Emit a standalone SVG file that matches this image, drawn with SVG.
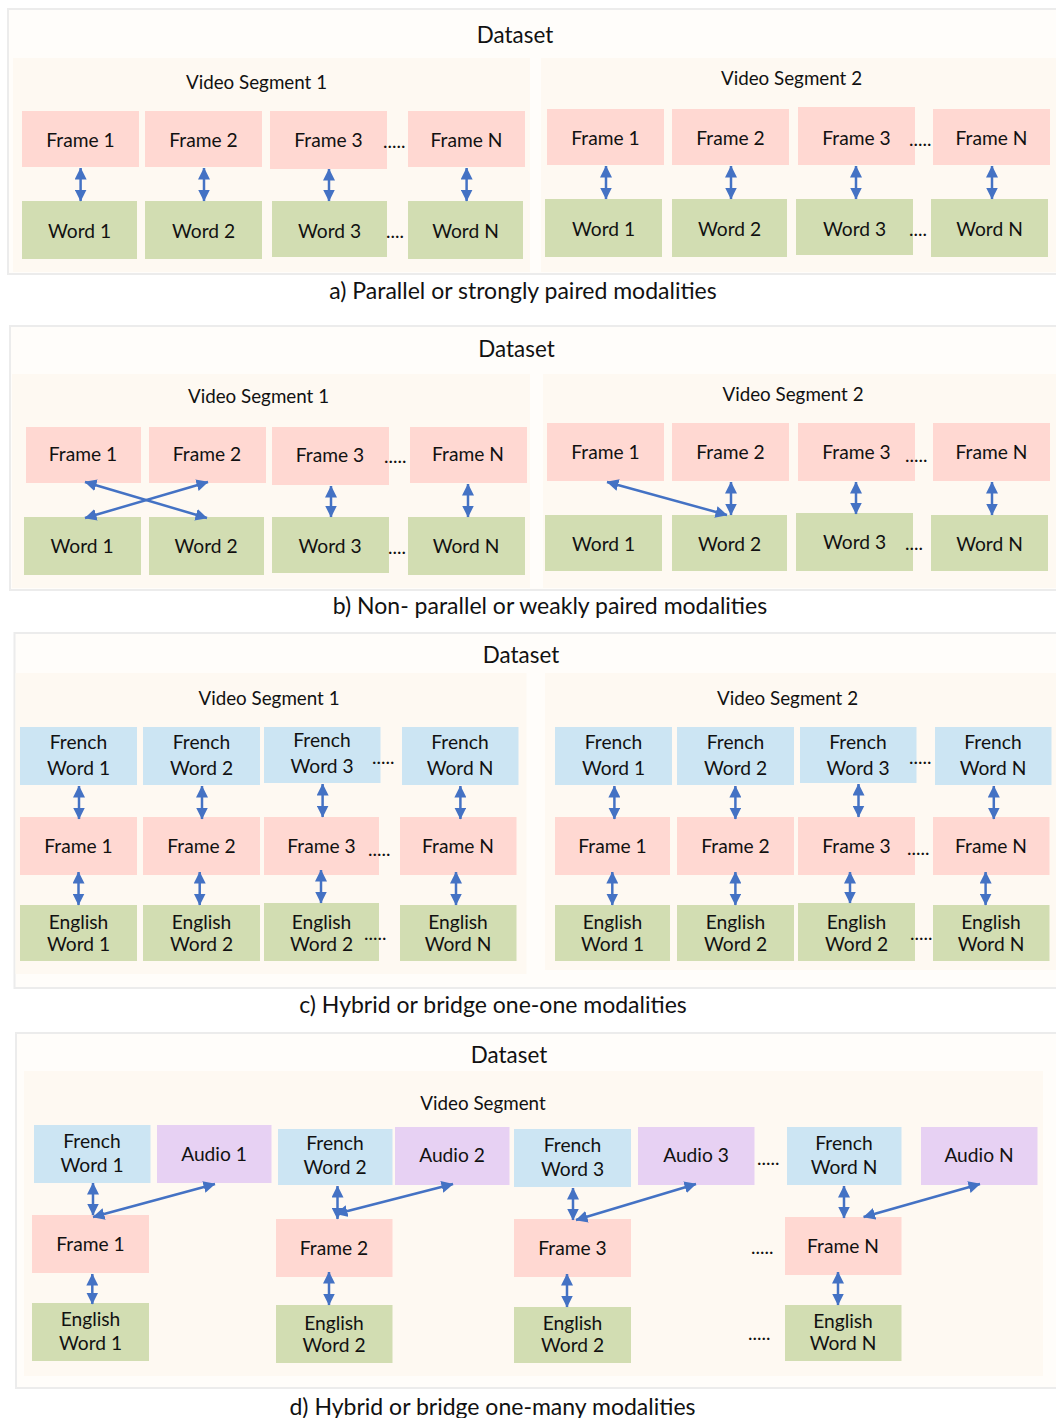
<svg xmlns="http://www.w3.org/2000/svg" width="1056" height="1418" viewBox="0 0 1056 1418">
<style>
text{font-family:Lato,"Open Sans",sans-serif;fill:#111;}
.outer{fill:#fffdfa;stroke:#ececec;stroke-width:2;}
.seg{fill:#fef9f2;}
.frame{fill:#ffd8d2;}
.word{fill:#d2ddb2;}
.fr{fill:#cce5f3;}
.audio{fill:#e7d1f3;}
.t{font-size:19.2px;text-anchor:middle;}
.vs{font-size:18.8px;text-anchor:middle;}
.ttl{font-size:22.4px;text-anchor:middle;}
.cap{font-size:23px;text-anchor:middle;}
.dots{font-size:19px;}
.arr{stroke:#4472c4;stroke-width:2.5;fill:none;marker-start:url(#ah);marker-end:url(#ah);}
</style>
<defs>
<marker id="ah" markerUnits="userSpaceOnUse" markerWidth="12" markerHeight="12" refX="11.5" refY="6" orient="auto-start-reverse" viewBox="0 0 12 12">
<path d="M0,0 L12,6 L0,12 z" fill="#4472c4"/>
</marker>
</defs>
<rect width="1056" height="1418" fill="#ffffff"/>

<!-- Panel a -->
<g id="panel-a">
<rect class="outer" x="8" y="9" width="1052" height="265"/>
<text class="ttl" x="515" y="43">Dataset</text>
<rect class="seg" x="13" y="58" width="517" height="214"/>
<rect class="seg" x="541" y="58" width="517" height="214"/>
<text class="vs" x="256.5" y="89">Video Segment 1</text>
<text class="vs" x="791.5" y="85">Video Segment 2</text>
<text class="cap" x="523" y="299">a) Parallel or strongly paired modalities</text>
</g>
<g id="a-s1-frame1"><rect class="frame" x="22" y="111" width="117" height="56"/><text class="t" x="80.5" y="146.5">Frame 1</text></g>
<g id="a-s1-frame2"><rect class="frame" x="145" y="111" width="117" height="56"/><text class="t" x="203.5" y="146.5">Frame 2</text></g>
<g id="a-s1-frame3"><rect class="frame" x="270" y="111" width="117" height="58"/><text class="t" x="328.5" y="146.5">Frame 3</text></g>
<g id="a-s1-frameN"><rect class="frame" x="408" y="111" width="117" height="56"/><text class="t" x="466.5" y="146.5">Frame N</text></g>
<g id="a-s1-word1"><rect class="word" x="22" y="201" width="115" height="58"/><text class="t" x="79.5" y="237.5">Word 1</text></g>
<g id="a-s1-word2"><rect class="word" x="145" y="201" width="117" height="58"/><text class="t" x="203.5" y="237.5">Word 2</text></g>
<g id="a-s1-word3"><rect class="word" x="272" y="201" width="115" height="56"/><text class="t" x="329.5" y="237.5">Word 3</text></g>
<g id="a-s1-wordN"><rect class="word" x="408" y="201" width="115" height="58"/><text class="t" x="465.5" y="237.5">Word N</text></g>
<text class="dots" x="383" y="148">.....</text>
<text class="dots" x="386" y="238">....</text>

<g id="a-s2-frame1"><rect class="frame" x="547" y="109" width="117" height="56"/><text class="t" x="605.5" y="144.5">Frame 1</text></g>
<g id="a-s2-frame2"><rect class="frame" x="672" y="109" width="117" height="56"/><text class="t" x="730.5" y="144.5">Frame 2</text></g>
<g id="a-s2-frame3"><rect class="frame" x="798" y="107" width="117" height="58"/><text class="t" x="856.5" y="144.5">Frame 3</text></g>
<g id="a-s2-frameN"><rect class="frame" x="933" y="109" width="117" height="56"/><text class="t" x="991.5" y="144.5">Frame N</text></g>
<g id="a-s2-word1"><rect class="word" x="545" y="199" width="117" height="58"/><text class="t" x="603.5" y="235.5">Word 1</text></g>
<g id="a-s2-word2"><rect class="word" x="672" y="199" width="115" height="58"/><text class="t" x="729.5" y="235.5">Word 2</text></g>
<g id="a-s2-word3"><rect class="word" x="796" y="199" width="117" height="56"/><text class="t" x="854.5" y="235.5">Word 3</text></g>
<g id="a-s2-wordN"><rect class="word" x="931" y="199" width="117" height="58"/><text class="t" x="989.5" y="235.5">Word N</text></g>
<text class="dots" x="909" y="146">.....</text>
<text class="dots" x="909" y="236">....</text>

<!-- Panel b -->
<g id="panel-b">
<rect class="outer" x="10" y="326" width="1050" height="264"/>
<text class="ttl" x="516.5" y="357">Dataset</text>
<rect class="seg" x="12" y="374" width="518" height="214"/>
<rect class="seg" x="543" y="374" width="515" height="214"/>
<text class="vs" x="258.5" y="403">Video Segment 1</text>
<text class="vs" x="793" y="401">Video Segment 2</text>
<text class="cap" x="550" y="614">b) Non- parallel or weakly paired modalities</text>
</g>
<g id="b-s1-frame1"><rect class="frame" x="26" y="427" width="115" height="56"/><text class="t" x="83" y="461">Frame 1</text></g>
<g id="b-s1-frame2"><rect class="frame" x="149" y="427" width="117" height="56"/><text class="t" x="207" y="461">Frame 2</text></g>
<g id="b-s1-frame3"><rect class="frame" x="272" y="427" width="117" height="58"/><text class="t" x="330" y="462">Frame 3</text></g>
<g id="b-s1-frameN"><rect class="frame" x="410" y="427" width="117" height="56"/><text class="t" x="468" y="461">Frame N</text></g>
<g id="b-s1-word1"><rect class="word" x="24" y="517" width="117" height="58"/><text class="t" x="82" y="553">Word 1</text></g>
<g id="b-s1-word2"><rect class="word" x="149" y="517" width="115" height="58"/><text class="t" x="206" y="553">Word 2</text></g>
<g id="b-s1-word3"><rect class="word" x="272" y="517" width="117" height="56"/><text class="t" x="330" y="553">Word 3</text></g>
<g id="b-s1-wordN"><rect class="word" x="408" y="517" width="117" height="58"/><text class="t" x="466" y="553">Word N</text></g>
<text class="dots" x="384" y="463">.....</text>
<text class="dots" x="388" y="554">....</text>

<g id="b-s2-frame1"><rect class="frame" x="547" y="423" width="117" height="58"/><text class="t" x="605.5" y="459">Frame 1</text></g>
<g id="b-s2-frame2"><rect class="frame" x="672" y="423" width="117" height="58"/><text class="t" x="730.5" y="459">Frame 2</text></g>
<g id="b-s2-frame3"><rect class="frame" x="798" y="423" width="117" height="58"/><text class="t" x="856.5" y="459">Frame 3</text></g>
<g id="b-s2-frameN"><rect class="frame" x="933" y="423" width="117" height="58"/><text class="t" x="991.5" y="459">Frame N</text></g>
<g id="b-s2-word1"><rect class="word" x="545" y="515" width="117" height="56"/><text class="t" x="603.5" y="551">Word 1</text></g>
<g id="b-s2-word2"><rect class="word" x="672" y="515" width="115" height="56"/><text class="t" x="729.5" y="551">Word 2</text></g>
<g id="b-s2-word3"><rect class="word" x="796" y="513" width="117" height="58"/><text class="t" x="854.5" y="549">Word 3</text></g>
<g id="b-s2-wordN"><rect class="word" x="931" y="515" width="117" height="56"/><text class="t" x="989.5" y="551">Word N</text></g>
<text class="dots" x="905" y="462">.....</text>
<text class="dots" x="905" y="550">....</text>

<!-- Panel c -->
<g id="panel-c">
<rect class="outer" x="14.5" y="633" width="1045" height="355"/>
<text class="ttl" x="521" y="663">Dataset</text>
<rect class="seg" x="15.5" y="673" width="511" height="301"/>
<rect class="seg" x="545" y="673" width="513" height="297"/>
<text class="vs" x="269" y="705">Video Segment 1</text>
<text class="vs" x="787.5" y="705">Video Segment 2</text>
<text class="cap" x="493" y="1013">c) Hybrid or bridge one-one modalities</text>
</g>
<g id="c-s1-fr1"><rect class="fr" x="20" y="727" width="117" height="58"/><text class="t" x="78.5" y="749">French</text><text class="t" x="78.5" y="775">Word 1</text></g>
<g id="c-s1-fr2"><rect class="fr" x="143" y="727" width="117" height="58"/><text class="t" x="201.5" y="749">French</text><text class="t" x="201.5" y="775">Word 2</text></g>
<g id="c-s1-fr3"><rect class="fr" x="264" y="727" width="116.5" height="56"/><text class="t" x="322" y="747">French</text><text class="t" x="322" y="773">Word 3</text></g>
<g id="c-s1-frN"><rect class="fr" x="402" y="727" width="116.5" height="58"/><text class="t" x="460" y="749">French</text><text class="t" x="460" y="775">Word N</text></g>
<g id="c-s1-frame1"><rect class="frame" x="20" y="817" width="117" height="58"/><text class="t" x="78.5" y="853">Frame 1</text></g>
<g id="c-s1-frame2"><rect class="frame" x="143" y="817" width="117" height="58"/><text class="t" x="201.5" y="853">Frame 2</text></g>
<g id="c-s1-frame3"><rect class="frame" x="264" y="817" width="115" height="58"/><text class="t" x="321.5" y="853">Frame 3</text></g>
<g id="c-s1-frameN"><rect class="frame" x="400" y="817" width="116.5" height="58"/><text class="t" x="458" y="853">Frame N</text></g>
<g id="c-s1-en1"><rect class="word" x="20" y="905" width="117" height="56"/><text class="t" x="78.5" y="929">English</text><text class="t" x="78.5" y="951">Word 1</text></g>
<g id="c-s1-en2"><rect class="word" x="143" y="905" width="117" height="56"/><text class="t" x="201.5" y="929">English</text><text class="t" x="201.5" y="951">Word 2</text></g>
<g id="c-s1-en3"><rect class="word" x="264" y="903" width="115" height="58"/><text class="t" x="321.5" y="929">English</text><text class="t" x="321.5" y="951">Word 2</text></g>
<g id="c-s1-enN"><rect class="word" x="400" y="905" width="116.5" height="56"/><text class="t" x="458" y="929">English</text><text class="t" x="458" y="951">Word N</text></g>
<text class="dots" x="372" y="764">.....</text>
<text class="dots" x="368" y="856">.....</text>
<text class="dots" x="364" y="940">.....</text>

<g id="c-s2-fr1"><rect class="fr" x="555" y="727" width="117" height="58"/><text class="t" x="613.5" y="749">French</text><text class="t" x="613.5" y="775">Word 1</text></g>
<g id="c-s2-fr2"><rect class="fr" x="677" y="727" width="117" height="58"/><text class="t" x="735.5" y="749">French</text><text class="t" x="735.5" y="775">Word 2</text></g>
<g id="c-s2-fr3"><rect class="fr" x="800" y="727" width="116.5" height="56"/><text class="t" x="858" y="749">French</text><text class="t" x="858" y="775">Word 3</text></g>
<g id="c-s2-frN"><rect class="fr" x="935" y="727" width="116.5" height="58"/><text class="t" x="993" y="749">French</text><text class="t" x="993" y="775">Word N</text></g>
<g id="c-s2-frame1"><rect class="frame" x="555" y="817" width="115" height="58"/><text class="t" x="612.5" y="853">Frame 1</text></g>
<g id="c-s2-frame2"><rect class="frame" x="677" y="817" width="117" height="58"/><text class="t" x="735.5" y="853">Frame 2</text></g>
<g id="c-s2-frame3"><rect class="frame" x="798" y="817" width="117" height="58"/><text class="t" x="856.5" y="853">Frame 3</text></g>
<g id="c-s2-frameN"><rect class="frame" x="933" y="817" width="116.5" height="58"/><text class="t" x="991" y="853">Frame N</text></g>
<g id="c-s2-en1"><rect class="word" x="555" y="905" width="115" height="56"/><text class="t" x="612.5" y="929">English</text><text class="t" x="612.5" y="951">Word 1</text></g>
<g id="c-s2-en2"><rect class="word" x="677" y="905" width="117" height="56"/><text class="t" x="735.5" y="929">English</text><text class="t" x="735.5" y="951">Word 2</text></g>
<g id="c-s2-en3"><rect class="word" x="798" y="903" width="117" height="58"/><text class="t" x="856.5" y="929">English</text><text class="t" x="856.5" y="951">Word 2</text></g>
<g id="c-s2-enN"><rect class="word" x="933" y="905" width="116.5" height="56"/><text class="t" x="991" y="929">English</text><text class="t" x="991" y="951">Word N</text></g>
<text class="dots" x="909" y="764">.....</text>
<text class="dots" x="907" y="855">.....</text>
<text class="dots" x="910" y="940">.....</text>

<!-- Panel d -->
<g id="panel-d">
<rect class="outer" x="16" y="1033" width="1044" height="355"/>
<text class="ttl" x="509" y="1063">Dataset</text>
<rect class="seg" x="24" y="1071" width="1019" height="305"/>
<text class="vs" x="483" y="1110">Video Segment</text>
<text class="cap" x="492.5" y="1415">d) Hybrid or bridge one-many modalities</text>
</g>
<g id="d-fr1"><rect class="fr" x="34" y="1125" width="116.5" height="58"/><text class="t" x="92" y="1148">French</text><text class="t" x="92" y="1172">Word 1</text></g>
<g id="d-audio1"><rect class="audio" x="157" y="1125" width="114.5" height="58"/><text class="t" x="214" y="1161">Audio 1</text></g>
<g id="d-frame1"><rect class="frame" x="32" y="1215" width="117" height="58"/><text class="t" x="90.5" y="1251">Frame 1</text></g>
<g id="d-en1"><rect class="word" x="32" y="1303" width="117" height="58"/><text class="t" x="90.5" y="1326">English</text><text class="t" x="90.5" y="1349.5">Word 1</text></g>

<g id="d-fr2"><rect class="fr" x="278" y="1129" width="114.5" height="56"/><text class="t" x="335" y="1150">French</text><text class="t" x="335" y="1174">Word 2</text></g>
<g id="d-audio2"><rect class="audio" x="395" y="1127" width="114.5" height="58"/><text class="t" x="452" y="1162">Audio 2</text></g>
<g id="d-frame2"><rect class="frame" x="276" y="1219" width="116.5" height="58"/><text class="t" x="334" y="1255">Frame 2</text></g>
<g id="d-en2"><rect class="word" x="276" y="1305" width="116.5" height="58"/><text class="t" x="334" y="1330">English</text><text class="t" x="334" y="1352">Word 2</text></g>

<g id="d-fr3"><rect class="fr" x="514" y="1129" width="117" height="58"/><text class="t" x="572.5" y="1152">French</text><text class="t" x="572.5" y="1176">Word 3</text></g>
<g id="d-audio3"><rect class="audio" x="638" y="1127" width="116.5" height="58"/><text class="t" x="696" y="1162">Audio 3</text></g>
<g id="d-frame3"><rect class="frame" x="514" y="1219" width="117" height="58"/><text class="t" x="572.5" y="1255">Frame 3</text></g>
<g id="d-en3"><rect class="word" x="514" y="1307" width="117" height="56"/><text class="t" x="572.5" y="1330">English</text><text class="t" x="572.5" y="1352">Word 2</text></g>

<g id="d-frN"><rect class="fr" x="787" y="1127" width="114.5" height="58"/><text class="t" x="844" y="1150">French</text><text class="t" x="844" y="1174">Word N</text></g>
<g id="d-audioN"><rect class="audio" x="921" y="1127" width="116.5" height="58"/><text class="t" x="979" y="1162">Audio N</text></g>
<g id="d-frameN"><rect class="frame" x="785" y="1217" width="116.5" height="58"/><text class="t" x="843" y="1253">Frame N</text></g>
<g id="d-enN"><rect class="word" x="785" y="1305" width="116.5" height="56"/><text class="t" x="843" y="1328">English</text><text class="t" x="843" y="1350">Word N</text></g>
<text class="dots" x="757" y="1165">.....</text>
<text class="dots" x="751" y="1254">.....</text>
<text class="dots" x="748" y="1340">.....</text>

<g id="connectors">
<line class="arr" x1="80.6" y1="168" x2="80.6" y2="201"/>
<line class="arr" x1="204" y1="168" x2="204" y2="201"/>
<line class="arr" x1="329" y1="169" x2="329" y2="201"/>
<line class="arr" x1="466.6" y1="168" x2="466.6" y2="201"/>
<line class="arr" x1="606" y1="166" x2="606" y2="199"/>
<line class="arr" x1="731" y1="166" x2="731" y2="199"/>
<line class="arr" x1="856" y1="166" x2="856" y2="199"/>
<line class="arr" x1="992" y1="166" x2="992" y2="199"/>

<line class="arr" x1="85" y1="482" x2="207" y2="518"/>
<line class="arr" x1="208" y1="482" x2="85" y2="518"/>
<line class="arr" x1="331" y1="486" x2="331" y2="517"/>
<line class="arr" x1="468" y1="484" x2="468" y2="517"/>
<line class="arr" x1="607" y1="482" x2="727" y2="515"/>
<line class="arr" x1="731" y1="482" x2="731" y2="515"/>
<line class="arr" x1="856" y1="482" x2="856" y2="514"/>
<line class="arr" x1="992" y1="482" x2="992" y2="515"/>

<line class="arr" x1="79" y1="786" x2="79" y2="819"/>
<line class="arr" x1="202" y1="786" x2="202" y2="819"/>
<line class="arr" x1="322.6" y1="784" x2="322.6" y2="817"/>
<line class="arr" x1="460.4" y1="786" x2="460.4" y2="819"/>
<line class="arr" x1="78.5" y1="872" x2="78.5" y2="905"/>
<line class="arr" x1="199.7" y1="872" x2="199.7" y2="905"/>
<line class="arr" x1="321" y1="870" x2="321" y2="903"/>
<line class="arr" x1="456" y1="872" x2="456" y2="905"/>
<line class="arr" x1="614.4" y1="786" x2="614.4" y2="819"/>
<line class="arr" x1="735.4" y1="786" x2="735.4" y2="819"/>
<line class="arr" x1="858.5" y1="784" x2="858.5" y2="817"/>
<line class="arr" x1="993.8" y1="786" x2="993.8" y2="819"/>
<line class="arr" x1="612.3" y1="872" x2="612.3" y2="905"/>
<line class="arr" x1="735.4" y1="872" x2="735.4" y2="905"/>
<line class="arr" x1="850" y1="872" x2="850" y2="903"/>
<line class="arr" x1="985.6" y1="872" x2="985.6" y2="905"/>

<line class="arr" x1="93" y1="1183" x2="93" y2="1215"/>
<line class="arr" x1="93" y1="1217" x2="215" y2="1184"/>
<line class="arr" x1="92.3" y1="1274" x2="92.3" y2="1304"/>
<line class="arr" x1="337.5" y1="1186" x2="337.5" y2="1219"/>
<line class="arr" x1="336" y1="1214" x2="453" y2="1184"/>
<line class="arr" x1="329" y1="1272" x2="329" y2="1305"/>
<line class="arr" x1="573" y1="1188" x2="573" y2="1220"/>
<line class="arr" x1="576" y1="1220" x2="696" y2="1184"/>
<line class="arr" x1="567" y1="1274" x2="567" y2="1307"/>
<line class="arr" x1="844" y1="1186" x2="844" y2="1218"/>
<line class="arr" x1="863.6" y1="1217" x2="980" y2="1184"/>
<line class="arr" x1="838" y1="1272" x2="838" y2="1305"/>
</g>
</svg>
